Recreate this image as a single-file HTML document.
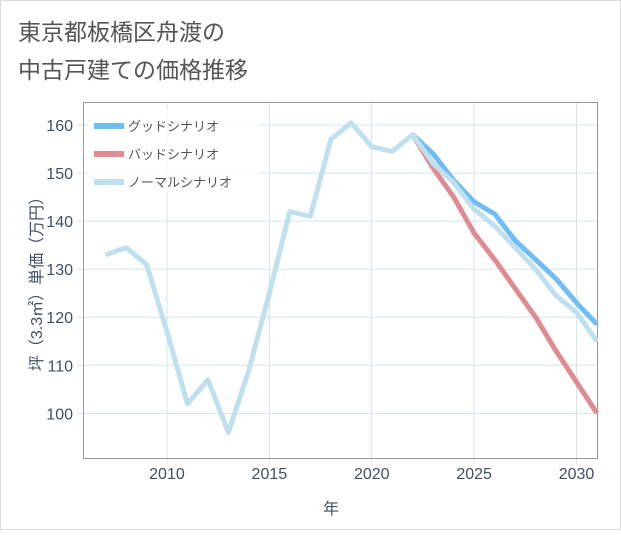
<!DOCTYPE html>
<html><head><meta charset="utf-8"><style>
body{margin:0;background:#fff;}
svg text{font-family:"Liberation Sans","Noto Sans CJK JP",sans-serif;}
</style></head><body>
<svg id="c" width="621" height="530" xmlns="http://www.w3.org/2000/svg">
<rect x="0.5" y="0.5" width="620" height="529" fill="#fff" stroke="#ddd"/>
<text x="18" y="40" font-size="23" fill="#555">東京都板橋区舟渡の</text>
<text x="18" y="78" font-size="23" fill="#555">中古戸建ての価格推移</text>
<g id="grid"></g>
<rect x="83.5" y="102.5" width="514" height="356" fill="none" stroke="#999"/>
<g id="series"></g>
<g id="legend">
<rect x="88" y="110" width="170" height="82" fill="#fff" fill-opacity="0.85"/>
<rect x="94" y="123" width="30" height="6" fill="#6fbdf3"/>
<text x="128" y="131" font-size="13" fill="#555">グッドシナリオ</text>
<rect x="94" y="151" width="30" height="6" fill="#e08a92"/>
<text x="128" y="159" font-size="13" fill="#555">バッドシナリオ</text>
<rect x="94" y="179" width="30" height="6" fill="#bfe0ef"/>
<text x="128" y="187" font-size="13" fill="#555">ノーマルシナリオ</text>
</g>
<text x="331" y="514" font-size="16" fill="#3f5066" text-anchor="middle">年</text>
<text transform="translate(42,280) rotate(-90)" font-size="16" fill="#3f5066" text-anchor="middle">坪（3.3㎡）単価（万円）</text>
</svg>
<script>
const normalYears=[2007,2008,2009,2010,2011,2012,2013,2014,2015,2016,2017,2018,2019,2020,2021,2022,2023,2024,2025,2026,2027,2028,2029,2030,2031];
const normalVals=[133,134.5,131,117,102,107,96,109,125,142,141,157,160.5,155.5,154.5,158,152,148,142.5,139,134.5,130,124.5,121,115];
const scenarioYears=[2022,2023,2024,2025,2026,2027,2028,2029,2030,2031];
const goodVals=[158,154,148.5,144,141.5,136,132,128,123,118.5];
const badVals=[158,151,145,137.5,132,126,120,113,106.5,100];
const xTicks=[2010,2015,2020,2025,2030];
const yTicks=[100,110,120,130,140,150,160];
const X0=83,X1=597,Y0=458,Y1=102;
const xMin=2005.9,xMax=2031,yMin=90.7,yMax=164.8;
const xs=v=>X0+(v-xMin)/(xMax-xMin)*(X1-X0);
const ys=v=>Y0-(v-yMin)/(yMax-yMin)*(Y0-Y1);
const NS="http://www.w3.org/2000/svg";
const grid=document.getElementById('grid'),ser=document.getElementById('series');
function mk(t,a,p){const e=document.createElementNS(NS,t);for(const k in a)e.setAttribute(k,a[k]);p.appendChild(e);return e;}
xTicks.forEach(t=>{const x=xs(t);
const l=mk('line',{x1:x,x2:x,y1:Y1,y2:Y0+6,stroke:'#d5e3ee','stroke-width':1},grid);


const tx=mk('text',{x:x,y:479,'font-size':16,fill:'#3f5066','text-anchor':'middle'},grid);tx.textContent=t;

});
yTicks.forEach(t=>{const y=ys(t);
const l=mk('line',{x1:X0-6,x2:X1,y1:y,y2:y,stroke:'#d5e3ee','stroke-width':1},grid);


const tx=mk('text',{x:X0-10,y:y+6,'font-size':16,fill:'#3f5066','text-anchor':'end'},grid);tx.textContent=t;

});
function line(xv,yv,c,n){const d=xv.map((x,i)=>(i?'L':'M')+xs(x).toFixed(1)+','+ys(yv[i]).toFixed(1)).join('');
const p=mk('path',{d:d,fill:'none',stroke:c,'stroke-width':5,'stroke-linejoin':'round'},ser);

}
line(scenarioYears,goodVals,'#6fbdf3','good-scenario-line');
line(scenarioYears,badVals,'#e08a92','bad-scenario-line');
line(normalYears,normalVals,'#bfe0ef','normal-scenario-line');
</script>
</body></html>
